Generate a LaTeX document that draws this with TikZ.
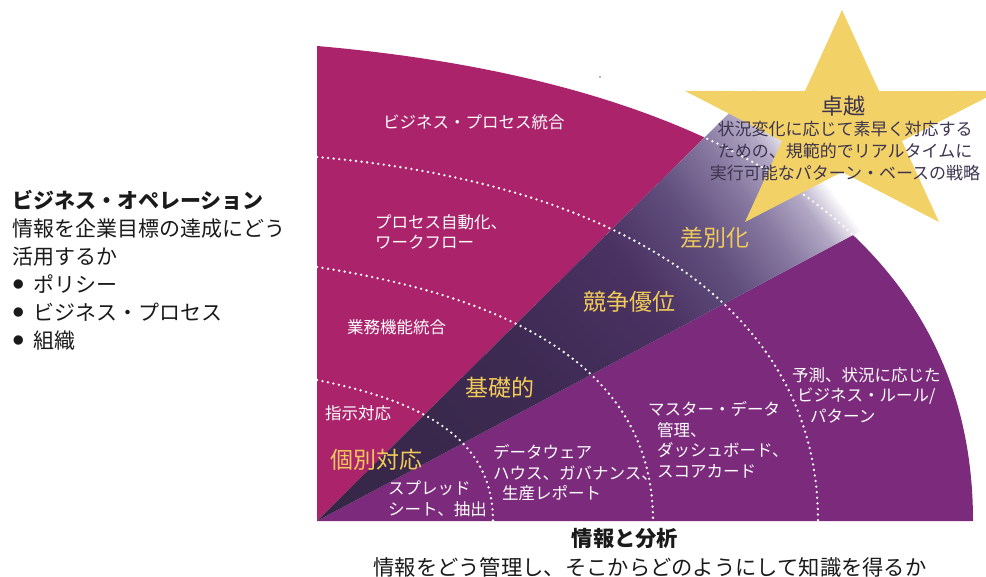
\documentclass[tikz,border=0pt]{standalone}
\usepackage{fontspec}
\setmainfont{Noto Sans CJK JP}
\definecolor{mag}{HTML}{AB236B}
\definecolor{pur}{HTML}{7B2A7C}
\definecolor{stary}{HTML}{F2D166}
\definecolor{ylw}{HTML}{F0CB5A}
\definecolor{startxt}{HTML}{3D3450}
\definecolor{ink}{HTML}{1A1A1A}
\definecolor{b0}{HTML}{352645}
\definecolor{b1}{HTML}{3D2A52}
\definecolor{b2}{HTML}{4A3262}
\definecolor{b3}{HTML}{62507F}
\definecolor{b4}{HTML}{8A7CA3}
\definecolor{b5}{HTML}{B4AAC6}
\newcommand{\blt}{\makebox[21pt][l]{\hspace*{1pt}\raisebox{3.6pt}{\fontsize{10.5}{10.5}\selectfont ●}}}
\tikzset{
  dotarc/.style={white, line width=2.6pt, line cap=round, dash pattern=on 0pt off 5.6pt},
  wlbl/.style={text=white, font=\fontsize{16.5}{20.5}\selectfont, inner sep=0pt, anchor=west, align=left},
  ylbl/.style={text=ylw, font=\fontsize{23}{26}\selectfont, inner sep=0pt, anchor=west},
  lefttxt/.style={text=ink, font=\fontsize{21}{28}\selectfont, inner sep=0pt, anchor=west, align=left},
  bottxt/.style={text=ink, font=\fontsize{21.3}{26}\selectfont, inner sep=0pt},
  startitle/.style={text=startxt, font=\fontsize{22}{26}\selectfont, inner sep=0pt},
  stardesc/.style={text=startxt, font=\fontsize{17}{22}\selectfont, inner sep=0pt, align=center}
}
\begin{document}
\begin{tikzpicture}[x=1pt,y=-1pt]
\useasboundingbox (0,0) rectangle (986,577);
\fill[white] (0,0) rectangle (986,577);

% quarter shape: magenta and purple wedges
\begin{scope}
  \clip (317,521) -- (317,46) .. controls (697,79) and (973,221) .. (973,521) -- cycle;
  \fill[mag] (317,521) -- (317,0) -- (843.4,0) -- cycle;
  \fill[pur] (317,521) -- (1000,156.5) -- (1000,530) -- (317,530) -- cycle;
\end{scope}

% band with gradient
\begin{scope}
  \clip (317,521) -- (760.6,82) -- (910,204.6) -- cycle;
  \begin{scope}[transform canvas={shift={(317,521)},rotate=36.5}]
    \shade[left color=b0,right color=b1] (-10,-400) rectangle (261,400);
    \shade[left color=b1,right color=b2] (260,-400) rectangle (401,400);
    \shade[left color=b2,right color=b3] (400,-400) rectangle (481,400);
    \shade[left color=b3,right color=b4] (480,-400) rectangle (541,400);
    \shade[left color=b4,right color=b5] (540,-400) rectangle (581,400);
    \shade[left color=b5,right color=white] (580,-400) rectangle (611,400);
    \fill[white] (610,-400) rectangle (800,400);
  \end{scope}
\end{scope}

% outer arc shown dotted across the band
\begin{scope}
  \clip (317,521) -- (760.6,82) -- (910,204.6) -- cycle;
  \draw[dotarc] (317,46) .. controls (697,79) and (973,221) .. (973,521);
\end{scope}

% star
\fill[stary] (842,10.05) \foreach \a/\r in {126/63,162/165,198/63,234/165,270/63,306/165,342/63,18/165,54/63}{ -- ({842+\r*cos(\a)},{127.2-0.71*\r*sin(\a)}) } -- cycle;

% inner dotted arcs
\draw[dotarc] (317,380) .. controls (427,402) and (493,441) .. (493,521);
\draw[dotarc] (317,267) .. controls (517,298) and (653,371) .. (653,521);
\draw[dotarc] (317,157) .. controls (607,182) and (818,301) .. (818,521);

% stray speck
\fill[black!55] (600,77) circle (0.8);

% left text
\node[lefttxt] (ops) at (12,270) {\textbf{ビジネス・オペレーション}\\情報を企業目標の達成にどう\\活用するか\\\blt ポリシー\\\blt ビジネス・プロセス\\\blt 組織};

% bottom text
\node[bottxt] (info) at (625,538) {\textbf{情報と分析}};
\node[bottxt] (infosub) at (650,567) {情報をどう管理し、そこからどのようにして知識を得るか};

% star text
\node[startitle] (excel) at (843,106) {卓越};
\node[stardesc] (exceldesc) at (845,151) {状況変化に応じて素早く対応する\\ための、規範的でリアルタイムに\\実行可能なパターン・ベースの戦略};

% white labels
\node[wlbl] (bpi) at (383,122) {ビジネス・プロセス統合};
\node[wlbl] (pa) at (375,232) {プロセス自動化、\\ワークフロー};
\node[wlbl] (bfi) at (347,327) {業務機能統合};
\node[wlbl] (dir) at (325,413) {指示対応};
\node[wlbl] (ss) at (388,499) {スプレッド\\シート、抽出};
\node[wlbl] (dw) at (493,473) {データウェア\\ハウス、ガバナンス、\\\hspace*{9pt}生産レポート};
\node[wlbl] (md) at (648,440) {マスター・データ\\\hspace*{9pt}管理、\\\hspace*{9pt}ダッシュボード、\\\hspace*{9pt}スコアカード};
\node[wlbl] (pred) at (792,395) {予測、状況に応じた\\\hspace*{5pt}ビジネス・ルール/\\\hspace*{18pt}パターン};

% yellow labels
\node[ylbl] (ind) at (330,460) {個別対応};
\node[ylbl] (base) at (465,388) {基礎的};
\node[ylbl] (comp) at (583,302) {競争優位};
\node[ylbl] (diff) at (680,238) {差別化};
\end{tikzpicture}
\end{document}
